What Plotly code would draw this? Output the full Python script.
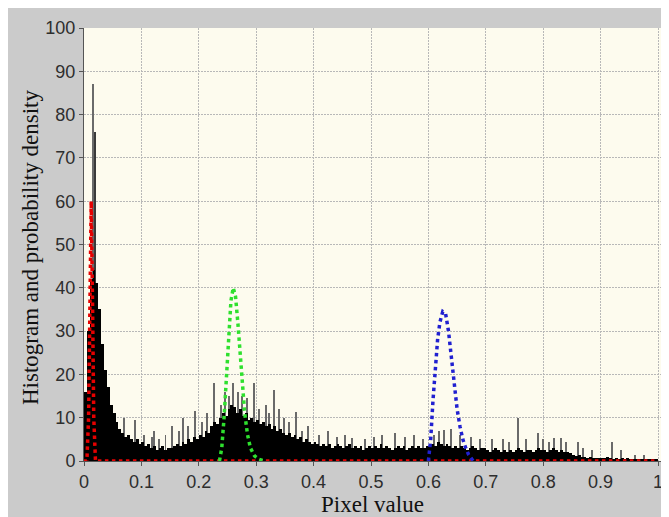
import plotly.graph_objects as go

# ---------------- data ----------------
BIN_WIDTH = 0.005
hist_counts = [
    16, 30, 42, 44, 41, 35, 27, 21, 17, 13, 11, 9, 7.5, 6.5, 5.5, 6, 5, 4.5, 5, 4,
    4.5, 3.5, 4, 3, 3.5, 2.5, 3, 3.5, 2.5, 3,
    3, 3.5, 4, 3.5, 4.5, 4, 5, 4.5, 5.5, 5,
    6, 5.5, 7, 6.5, 8, 9, 8.5, 10, 11, 10.5,
    12, 13, 12.5, 11, 12, 10.5, 11, 9.5, 10, 9,
    9.5, 8.5, 9, 8, 8.5, 7.5, 8, 7, 7.5, 6.5,
    6, 6.5, 5.5, 6, 5, 5.5, 4.5, 5, 4.5, 4,
    4.5, 4, 3.5, 4, 3.5, 4, 3, 3.5, 4, 3.5,
    3, 3.5, 4, 3, 3.5, 3, 3.5, 2.5, 3, 3.5,
    3, 3.5, 3, 4, 3, 3.5, 3, 2.5, 3, 3.5,
    3, 3.5, 2.5, 3, 3.5, 3, 3.5, 3, 3, 3.5,
    3.5, 4, 3.5, 4.5, 4, 3.5, 4, 3.5, 3, 3.5,
    3, 3.5, 3, 2.5, 3, 3.5, 3, 2.5, 3, 3,
    2.5, 2, 2.5, 3, 2.5, 2, 2.5, 2, 2.5, 2,
    2.5, 3, 2.5, 2, 2.5, 2.5, 2, 2.5, 3, 2.5,
    2.5, 2, 2.5, 3, 2.5, 2, 2.5, 2, 2, 1.8,
    1.5, 1.2, 1.5, 1, 1, 0.8, 1, 0.8, 0.7, 0.8,
    0.8, 0.6, 0.9, 0.7, 0.5, 0.7, 0.5, 0.6, 0.5, 0.6,
    0.5, 0.4, 0.5, 0.4, 0.3, 0.5, 0.4, 0.3, 0.4, 0.3,
]

# isolated tall histogram spikes (pixel value, count)
spike_x = [0.0157, 0.049, 0.07, 0.089, 0.122, 0.153, 0.172, 0.193, 0.227, 0.26,
           0.284, 0.296, 0.317, 0.331, 0.369, 0.467, 0.542, 0.627, 0.711, 0.756,
           0.791, 0.819, 0.831, 0.86, 0.92,
           0.105, 0.118, 0.13, 0.142, 0.165, 0.182, 0.205, 0.215, 0.238, 0.245,
           0.252, 0.268, 0.275, 0.305, 0.322, 0.34, 0.348, 0.357, 0.38, 0.39,
           0.41, 0.425, 0.44, 0.455, 0.49, 0.505, 0.52, 0.56, 0.575, 0.59,
           0.61, 0.618, 0.64, 0.655, 0.675, 0.69, 0.73, 0.74, 0.77, 0.8,
           0.81, 0.84, 0.87, 0.885, 0.935, 0.96, 0.975]
spike_h = [87, 12, 10, 9.5, 7, 8, 10, 11.5, 18, 18,
           14.5, 18, 13, 16.4, 11.4, 5.3, 6.4, 7.2, 5, 10,
           6.5, 5.3, 5.3, 4.4, 4.4,
           6, 5.5, 5, 6, 7, 8, 9, 11, 13, 16,
           15, 16, 15, 12, 11, 12, 10, 9, 7, 8,
           6, 7, 5.5, 6, 5, 5.5, 6, 5.5, 6, 5,
           6, 7, 7.5, 6, 5.5, 5, 5, 4.5, 5, 5,
           4.5, 4.5, 3, 2.5, 2.5, 1.5, 1.5]
dark_spike_x = [0.019]
dark_spike_h = [76]

# fitted probability densities
red_x = [0.0, 0.005, 0.008, 0.010, 0.0125, 0.015, 0.017, 0.020, 1.0]
red_y = [0, 0, 10, 35, 60, 35, 10, 0, 0]
green_x = [0.236, 0.24, 0.244, 0.248, 0.252, 0.256, 0.26, 0.264, 0.268, 0.272,
           0.276, 0.28, 0.285, 0.29, 0.297, 0.305, 0.315]
green_y = [0, 3, 10, 20, 30, 37, 40, 38, 32, 24, 17, 11, 6, 3, 1.2, 0.4, 0]
blue_x = [0.600, 0.604, 0.608, 0.612, 0.616, 0.62, 0.625, 0.63, 0.635, 0.64,
          0.645, 0.65, 0.655, 0.66, 0.665, 0.67, 0.678]
blue_y = [0, 5, 14, 22, 28, 32, 34.5, 34, 30, 24, 18, 12, 8, 5, 3, 1.5, 0]

x_ticks = [0, 0.1, 0.2, 0.3, 0.4, 0.5, 0.6, 0.7, 0.8, 0.9, 1.0]
x_tick_labels = ["0", "0.1", "0.2", "0.3", "0.4", "0.5", "0.6", "0.7", "0.8", "0.9", "1"]
y_ticks = [0, 10, 20, 30, 40, 50, 60, 70, 80, 90, 100]

# ---------------- figure ----------------
# the page body adds an 8px offset; figure fills the rest of the 669x517 window
OFF = 8
W, H = 669 - OFF, 517 - OFF
ML, MR, MT, MB = 84 - OFF, 0, 28 - OFF, 517 - 461
plot_w = W - ML - MR
plot_h = H - MT - MB
x_max = plot_w / 574.0

bin_centers = [(i + 0.5) * BIN_WIDTH for i in range(len(hist_counts))]

fig = go.Figure()
fig.add_trace(go.Bar(x=spike_x, y=spike_h, width=0.0017,
                     marker=dict(color="#6a6a6a", line=dict(width=0)), showlegend=False))
fig.add_trace(go.Bar(x=dark_spike_x, y=dark_spike_h, width=0.0028,
                     marker=dict(color="#3a3a3a", line=dict(width=0)), showlegend=False))
fig.add_trace(go.Bar(x=bin_centers, y=hist_counts, width=BIN_WIDTH,
                     marker=dict(color="black", line=dict(width=0)), showlegend=False))
fig.add_trace(go.Scatter(x=red_x, y=red_y, mode="lines",
                         line=dict(color="#e60000", width=3.5, dash="dot"), showlegend=False))
fig.add_trace(go.Scatter(x=green_x, y=green_y, mode="lines",
                         line=dict(color="#2ee02e", width=3.5, dash="dot"), showlegend=False))
fig.add_trace(go.Scatter(x=blue_x, y=blue_y, mode="lines",
                         line=dict(color="#2020d0", width=3.5, dash="dot"), showlegend=False))

tick_font = dict(family="Liberation Sans, Arial, sans-serif", size=18, color="#2e2e2e")
title_font = dict(family="Liberation Serif, Times New Roman, serif", size=23, color="#111111")

def px_x(px):  # window pixel -> paper
    return (px - OFF - ML) / plot_w

def px_y(py):
    return (H - MB - (py - OFF)) / plot_h

grid_style = dict(showgrid=True, gridcolor="#b8b8b8", griddash="2px,1px", gridwidth=1,
                  showline=True, linecolor="#555555", linewidth=1,
                  ticks="outside", ticklen=4, tickcolor="#555555",
                  tickfont=tick_font, zeroline=False, fixedrange=True, automargin=False)

fig.update_layout(
    width=W, height=H,
    margin=dict(l=ML, r=MR, t=MT, b=MB, autoexpand=False),
    paper_bgcolor="#cbcbcb",
    plot_bgcolor="#fdfbee",
    barmode="overlay",
    bargap=0,
    xaxis=dict(range=[0, x_max], tickvals=x_ticks, ticktext=x_tick_labels, **grid_style),
    yaxis=dict(range=[0, 100], tickvals=y_ticks, **grid_style),
    annotations=[
        dict(text="Histogram and probability density", textangle=-90,
             xref="paper", yref="paper", x=px_x(31), y=px_y(248),
             xanchor="center", yanchor="middle", showarrow=False, font=title_font),
        dict(text="Pixel value", xref="paper", yref="paper",
             x=px_x(372), y=px_y(504), xanchor="center", yanchor="middle",
             showarrow=False, font=title_font),
    ],
)

fig.write_html("out.html")
